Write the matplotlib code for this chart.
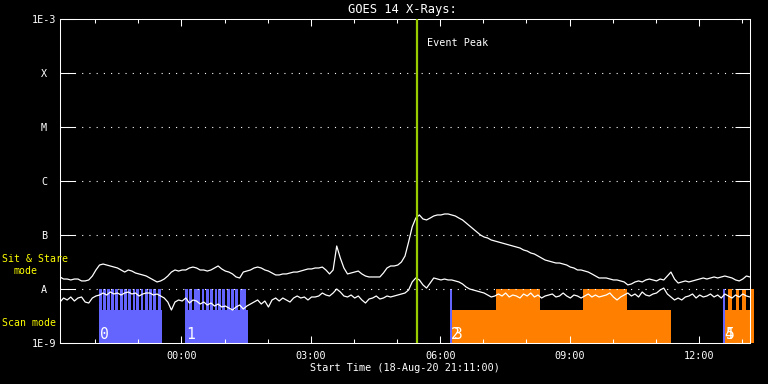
import numpy as np
import pandas as pd
import matplotlib
matplotlib.use("Agg")
import matplotlib.pyplot as plt
import matplotlib.dates as mdates

plt.rcParams["font.family"] = ["DejaVu Sans Mono"]

START = pd.Timestamp("2020-08-18 21:11")
END = pd.Timestamp("2020-08-19 13:11")
EVENT_PEAK = pd.Timestamp("2020-08-19 05:28")

# GOES 14 flux, 5 minute samples from START, units of 1e-9 W/m^2
long_flux = [
    16.7, 15.3, 15.3, 14.7, 15.3, 15.3, 14.1, 14.1, 14.7, 17.4, 22.5, 27.8,
    29.0, 27.8, 26.7, 25.5, 24.5, 22.5, 20.6, 22.5, 21.5, 19.8, 19.0, 18.2,
    17.4, 16.0, 14.7, 13.5, 14.1, 15.3, 17.4, 20.6, 22.5, 21.5, 22.5, 22.5,
    24.5, 25.5, 24.5, 22.5, 22.5, 21.5, 22.5, 24.5, 26.7, 23.5, 21.5, 20.6,
    19.0, 16.7, 16.0, 20.6, 21.5, 22.5, 24.5, 25.5, 24.5, 22.5, 21.5, 19.8,
    18.2, 18.2, 19.0, 19.0, 19.8, 20.6, 20.6, 21.5, 22.5, 23.5, 23.5, 24.5,
    24.5, 25.5, 22.5, 19.0, 22.5, 62.6, 37.5, 24.5, 19.0, 19.8, 20.6, 21.5,
    19.0, 17.4, 16.7, 16.7, 16.7, 16.7, 19.8, 24.5, 26.7, 26.7, 27.8, 31.6,
    40.8, 74.2, 141, 206, 235, 198, 190, 206, 225, 235, 235, 245,
    245, 235, 225, 206, 190, 167, 147, 129, 114, 100, 91.8, 88.0,
    80.8, 77.4, 74.2, 71.1, 68.1, 65.3, 62.6, 59.9, 57.4, 52.7, 50.5, 46.4,
    44.5, 40.8, 37.5, 34.4, 33.0, 31.6, 30.3, 30.3, 29.0, 27.8, 25.5, 24.5,
    22.5, 22.5, 21.5, 20.6, 19.0, 17.4, 16.0, 16.0, 16.0, 15.3, 14.7, 14.7,
    14.1, 13.5, 11.9, 12.4, 13.5, 14.1, 13.5, 14.7, 15.3, 14.7, 14.1, 15.3,
    14.7, 17.4, 20.6, 15.3, 12.9, 13.5, 14.1, 13.5, 14.1, 14.7, 15.3, 16.0,
    15.3, 16.0, 16.7, 16.0, 16.7, 17.4, 16.7, 16.0, 14.7, 14.1, 15.3, 17.4,
    16.7,
]
short_flux = [
    5.74, 6.81, 6.26, 7.11, 5.99, 6.81, 7.11, 5.74, 5.50, 6.81, 7.42, 7.74,
    8.43, 7.74, 8.80, 8.08, 8.43, 7.74, 8.43, 8.80, 8.08, 8.43, 7.42, 8.08,
    8.43, 8.43, 7.74, 8.08, 7.42, 6.81, 5.74, 4.08, 5.74, 6.26, 5.99, 6.81,
    5.50, 6.26, 5.99, 5.27, 5.74, 5.05, 5.50, 4.84, 5.27, 4.64, 4.84, 4.45,
    4.08, 4.64, 5.05, 4.26, 4.84, 5.27, 5.74, 6.26, 5.27, 5.99, 4.64, 6.26,
    6.81, 5.99, 6.81, 6.26, 5.74, 6.81, 7.42, 6.81, 7.11, 6.26, 7.11, 7.11,
    7.42, 8.43, 7.74, 7.42, 8.43, 10.0, 8.80, 7.42, 7.11, 7.74, 6.81, 7.42,
    6.26, 5.50, 6.53, 6.81, 7.42, 6.53, 6.81, 7.42, 7.11, 7.42, 7.74, 8.08,
    8.43, 9.58, 13.5, 16.0, 14.7, 11.9, 10.4, 12.9, 16.0, 15.3, 14.7, 15.3,
    14.7, 14.7, 14.1, 13.5, 12.4, 10.9, 10.0, 9.58, 9.18, 8.80, 8.43, 7.74,
    7.11, 7.42, 8.08, 7.42, 8.43, 7.11, 7.74, 7.42, 6.81, 8.08, 7.42, 8.43,
    7.11, 7.74, 6.81, 7.42, 7.74, 8.08, 7.11, 7.42, 8.43, 7.42, 6.81, 7.74,
    7.42, 6.81, 7.42, 8.08, 7.11, 7.74, 7.11, 7.42, 7.74, 8.43, 7.11, 6.26,
    7.11, 7.74, 8.43, 7.42, 8.08, 7.11, 8.80, 7.74, 7.42, 8.08, 8.43, 9.58,
    10.4, 8.08, 7.11, 6.26, 6.81, 6.26, 7.11, 7.42, 8.08, 6.81, 7.74, 7.11,
    7.42, 8.08, 7.11, 7.74, 6.81, 8.08, 7.42, 6.81, 7.74, 7.11, 8.08, 7.42,
    7.11,
]
times = pd.date_range(START, periods=len(long_flux), freq="5min")

# observing blocks
block_labels = ["0", "1", "2", "3", "4", "5"]
block_modes = ["scan", "scan", "scan", "stare", "scan", "stare"]
block_start = ["2020-08-18 22:05", "2020-08-19 00:05", "2020-08-19 06:13",
               "2020-08-19 06:16", "2020-08-19 12:33", "2020-08-19 12:36"]
block_end = ["2020-08-18 23:33", "2020-08-19 01:32", "2020-08-19 06:16",
             "2020-08-19 11:21", "2020-08-19 12:36", "2020-08-19 13:16"]
block_level = [4.1e-9, 4.1e-9, 1e-8, 4.1e-9, 1e-8, 4.1e-9]

# raster steps inside the scan blocks (4 min each)
scan_steps = [
    "2020-08-18 22:05", "2020-08-18 22:11", "2020-08-18 22:17", "2020-08-18 22:22",
    "2020-08-18 22:28", "2020-08-18 22:34", "2020-08-18 22:40", "2020-08-18 22:46",
    "2020-08-18 22:52", "2020-08-18 22:57", "2020-08-18 23:03", "2020-08-18 23:09",
    "2020-08-18 23:15", "2020-08-18 23:21", "2020-08-18 23:27",
    "2020-08-19 00:05", "2020-08-19 00:11", "2020-08-19 00:17", "2020-08-19 00:22",
    "2020-08-19 00:28", "2020-08-19 00:34", "2020-08-19 00:40", "2020-08-19 00:46",
    "2020-08-19 00:51", "2020-08-19 00:57", "2020-08-19 01:03", "2020-08-19 01:09",
    "2020-08-19 01:15", "2020-08-19 01:21", "2020-08-19 01:26",
]
STEP_LEN = pd.Timedelta(minutes=4)

# sit & stare intervals with data at full level
stare_start = ["2020-08-19 07:17", "2020-08-19 09:19", "2020-08-19 12:41",
               "2020-08-19 12:51", "2020-08-19 13:00", "2020-08-19 13:11"]
stare_end = ["2020-08-19 08:19", "2020-08-19 10:20", "2020-08-19 12:46",
             "2020-08-19 12:56", "2020-08-19 13:06", "2020-08-19 13:16"]

ytick_vals = [1e-9, 1e-8, 1e-7, 1e-6, 1e-5, 1e-4, 1e-3]
ytick_labels = ["1E-9", "A", "B", "C", "M", "X", "1E-3"]
class_levels = [1e-8, 1e-7, 1e-6, 1e-5, 1e-4]

FLOOR = 1e-9
mode_colors = {"scan": "#6464ff", "stare": "#ff8000"}
WHITE = "white"


def draw_span(ax, t0, t1, top, color):
    x0 = mdates.date2num(pd.Timestamp(t0))
    x1 = mdates.date2num(pd.Timestamp(t1))
    ax.bar(x0, top - FLOOR, bottom=FLOOR, width=x1 - x0, align="edge",
           color=color, linewidth=0, clip_on=False, zorder=1)


fig = plt.figure(figsize=(7.68, 3.84), dpi=100, facecolor="black")
ax = fig.add_axes([60 / 768, 41 / 384, 690 / 768, 324 / 384])
ax.set_facecolor("black")
ax.set_yscale("log")

for t0, t1, lvl, mode in zip(block_start, block_end, block_level, block_modes):
    draw_span(ax, t0, t1, lvl, mode_colors[mode])
for t0 in scan_steps:
    draw_span(ax, t0, pd.Timestamp(t0) + STEP_LEN, 1e-8, mode_colors["scan"])
for t0, t1 in zip(stare_start, stare_end):
    draw_span(ax, t0, t1, 1e-8, mode_colors["stare"])

for lab, t0 in zip(block_labels, block_start):
    ax.annotate(lab, (mdates.date2num(pd.Timestamp(t0)), 1.19e-9),
                xytext=(1, 0), textcoords="offset points",
                color=WHITE, fontsize=10.5, ha="left", va="baseline", zorder=4)

for lvl in class_levels:
    ax.axhline(lvl, color=WHITE, lw=0.8, linestyle=(0, (1, 5.5)), zorder=2)

ax.plot(times, np.array(long_flux) * 1e-9, color=WHITE, lw=0.9, zorder=3)
ax.plot(times, np.array(short_flux) * 1e-9, color=WHITE, lw=0.9, zorder=3)

ax.axvline(EVENT_PEAK, color="#9acd00", lw=1.6, zorder=3.5)
ax.annotate("Event Peak", (mdates.date2num(EVENT_PEAK), 0.926),
            xycoords=("data", "axes fraction"), xytext=(7, 0),
            textcoords="offset points", color=WHITE, fontsize=7.3,
            ha="left", va="center")

ax.set_xlim(START, END)
ax.set_ylim(1e-9, 1e-3)
ax.set_yticks(ytick_vals)
ax.set_yticklabels(ytick_labels)
ax.yaxis.set_minor_locator(matplotlib.ticker.NullLocator())
plt.setp(ax.get_yticklabels(), ha="center")
ax.xaxis.set_major_locator(mdates.HourLocator(byhour=[0, 3, 6, 9, 12]))
ax.xaxis.set_minor_locator(mdates.HourLocator())
ax.xaxis.set_major_formatter(mdates.DateFormatter("%H:%M"))

ax.tick_params(axis="y", which="major", direction="in", length=10.8, width=0.75,
               left=True, right=True, colors=WHITE, labelsize=7.3, pad=11.5)
ax.tick_params(axis="x", which="major", direction="in", length=5, width=0.75,
               top=True, bottom=True, colors=WHITE, labelsize=7.3, pad=5.5)
ax.tick_params(axis="x", which="minor", direction="in", length=3, width=0.75,
               top=True, bottom=True, colors=WHITE)
for sp in ax.spines.values():
    sp.set_color(WHITE)
    sp.set_linewidth(0.75)

ax.set_xlabel("Start Time (18-Aug-20 21:11:00)", color=WHITE, fontsize=7.3, labelpad=2)
fig.text(402 / 768, 1 - 10 / 384, "GOES 14 X-Rays:", color=WHITE, fontsize=8.7,
         ha="center", va="center")

yellow = "#ffff00"
fig.text(2 / 768, 1 - 259 / 384, "Sit & Stare", color=yellow, fontsize=7.1, va="center")
fig.text(13 / 768, 1 - 271 / 384, "mode", color=yellow, fontsize=7.1, va="center")
fig.text(2 / 768, 1 - 323.5 / 384, "Scan mode", color=yellow, fontsize=7.1, va="center")

fig.savefig("out.png", dpi=100, facecolor="black")
